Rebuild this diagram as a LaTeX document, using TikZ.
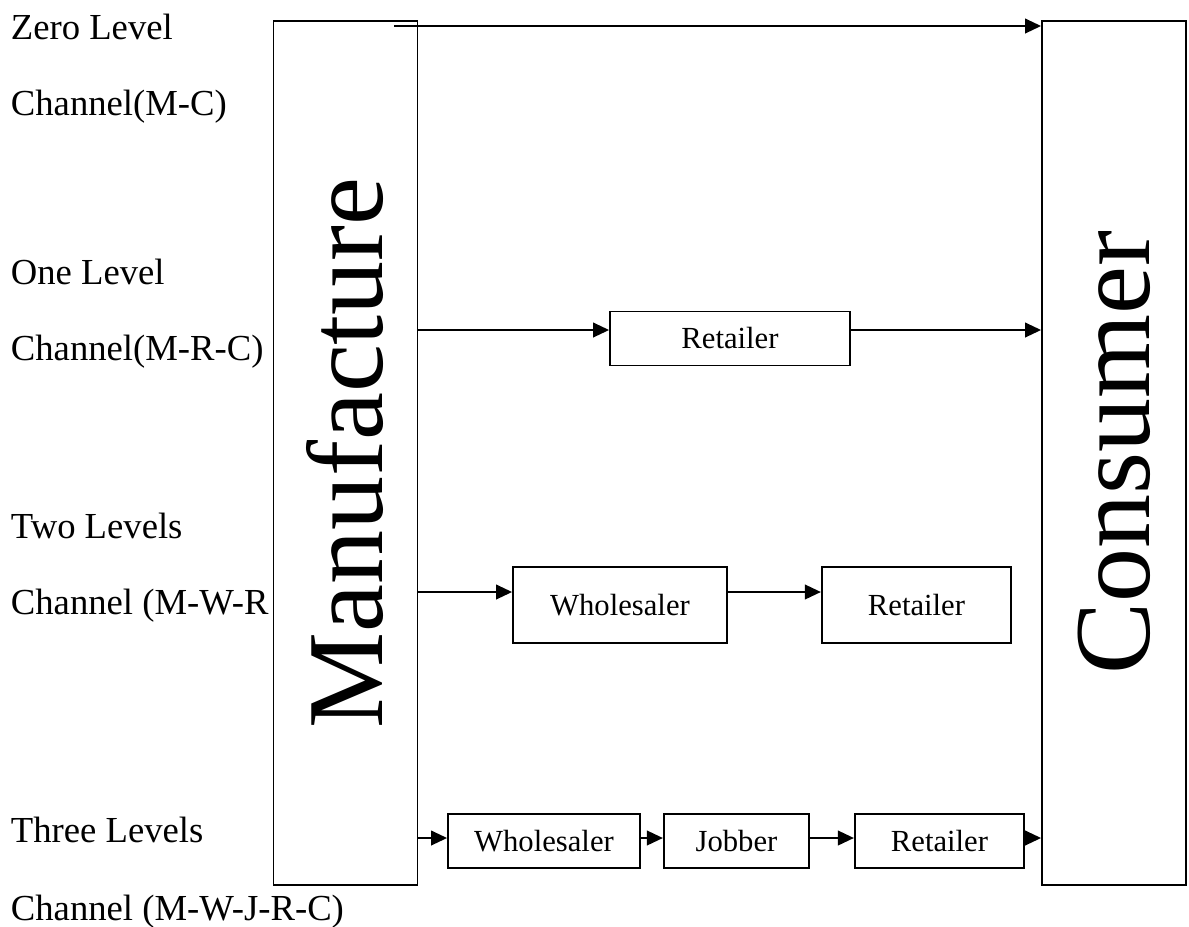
\documentclass[tikz,border=0pt]{standalone}
\usepackage{fontspec}
\setmainfont{Liberation Serif}
\usetikzlibrary{arrows.meta}
\begin{document}
\begin{tikzpicture}[x=0.75pt,y=-0.75pt,line width=1.4pt,
    box/.style={draw,inner sep=0pt,minimum height=40.5pt,font=\fontsize{23}{28}\selectfont},
    side/.style={draw,inner sep=0pt,minimum width=108pt,minimum height=648pt},
    big/.style={rotate=90,inner sep=0pt,font=\fontsize{81}{90}\selectfont},
    lab/.style={anchor=base west,inner sep=0pt,font=\fontsize{27.5}{33}\selectfont},
    arr/.style={-{Triangle[length=12pt,width=11pt]}}]
    \useasboundingbox (0,0) rectangle (1189,926);
    % Draw end boxes
    \node[side] (manuf) at (345.5,453) {};
    \node[side] (cons) at (1114,453) {};
    \node[big] (manuftxt) at (manuf) {Manufacture};
    \node[big] (constxt) at (cons) {Consumer};

    % Draw middle boxes
    \node[box,minimum width=180pt] (r1) at (730,338.5) {Retailer};
    \node[box,minimum width=160.5pt,minimum height=57pt] (w2) at (620,605) {Wholesaler};
    \node[box,minimum width=142pt,minimum height=57pt] (r2) at (916.5,605) {Retailer};
    \node[box,minimum width=144pt] (w3) at (544,841) {Wholesaler};
    \node[box,minimum width=109pt] (j3) at (736.5,841) {Jobber};
    \node[box,minimum width=127pt] (r3) at (939.5,841) {Retailer};

    % Arrow levels
    \coordinate (z0) at (394,26);
    \coordinate (y1) at (0,330);
    \coordinate (y2) at (0,592);
    \coordinate (y3) at (0,838);

    % Draw edges
    \draw[arr] (z0) -- (cons.west |- z0);
    \draw[arr] (manuf.east |- y1) -- (r1.west |- y1);
    \draw[arr] (r1.east |- y1) -- (cons.west |- y1);
    \draw[arr] (manuf.east |- y2) -- (w2.west |- y2);
    \draw[arr] (w2.east |- y2) -- (r2.west |- y2);
    \draw[arr] (manuf.east |- y3) -- (w3.west |- y3);
    \draw[arr] (w3.east |- y3) -- (j3.west |- y3);
    \draw[arr] (j3.east |- y3) -- (r3.west |- y3);
    \draw[arr] (r3.east |- y3) -- (cons.west |- y3);

    % Labels
    \node[lab] (l0a) at (10,39) {Zero Level};
    \node[lab] (l0b) at (10,115) {Channel(M-C)};
    \node[lab] (l1a) at (10,284) {One Level};
    \node[lab] (l1b) at (10,360) {Channel(M-R-C)};
    \node[lab] (l2a) at (10,538) {Two Levels};
    \node[lab] (l2b) at (10,614) {Channel (M-W-R};
    \node[lab] (l3a) at (10,842) {Three Levels};
    \node[lab] (l3b) at (10,920) {Channel (M-W-J-R-C)};
\end{tikzpicture}
\end{document}
